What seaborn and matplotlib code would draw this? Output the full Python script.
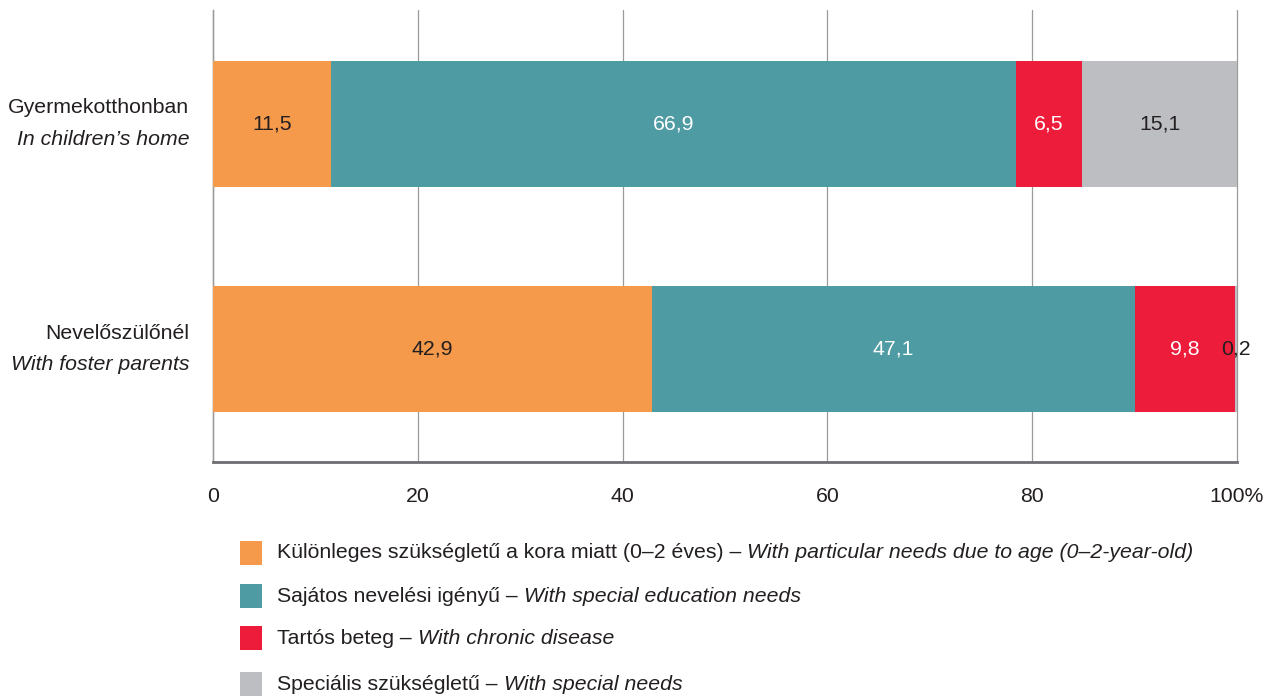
import matplotlib
matplotlib.use("Agg")
import matplotlib.pyplot as plt
import matplotlib.patches as mpatches
import seaborn as sns
import numpy as np
import pandas as pd

categories_hu = ["Gyermekotthonban", "Nevelőszülőnél"]
categories_en = ["In children’s home", "With foster parents"]
series_hu = ["Különleges szükségletű a kora miatt (0–2 éves) – ",
             "Sajátos nevelési igényű – ",
             "Tartós beteg – ",
             "Speciális szükségletű – "]
series_en = ["With particular needs due to age (0–2-year-old)",
             "With special education needs",
             "With chronic disease",
             "With special needs"]
particular_age = [11.5, 42.9]
special_education = [66.9, 47.1]
chronic_disease = [6.5, 9.8]
special_needs = [15.1, 0.2]
tick_values = [0, 20, 40, 60, 80, 100]
tick_labels = ["0", "20", "40", "60", "80", "100%"]

colors = ["#F5994A", "#4E9BA3", "#EE1C3B", "#BDBEC1"]
label_colors = ["#231F20", "white", "white", "#231F20"]
FS = 15.3

sns.set_theme(style="white")
plt.rcParams["font.family"] = ["Liberation Sans", "DejaVu Sans"]

series = [particular_age, special_education, chronic_disease, special_needs]
rows = []
for s_idx, vals in enumerate(series):
    for c_idx, v in enumerate(vals):
        rows.append({"cat": c_idx, "series": s_idx, "value": v})
df = pd.DataFrame(rows)
df["cum"] = df.groupby("cat")["value"].cumsum()
df["start"] = df["cum"] - df["value"]
df["cat_name"] = df["cat"].map(lambda i: categories_hu[i])

fig = plt.figure(figsize=(12.84, 6.97), dpi=100)
ax = fig.add_axes([213 / 1284, 1 - 462 / 697, 1024 / 1284, 452 / 697])

for s_idx in reversed(range(len(series))):
    sub = df[df["series"] == s_idx]
    sns.barplot(data=sub, x="cum", y="cat_name", order=categories_hu,
                color=colors[s_idx], orient="h", width=0.56,
                ax=ax, saturation=1, edgecolor="none", linewidth=0, zorder=3)

ax.set_xlim(0, 100)
ax.set_ylim(1.5, -0.505)
ax.set_xlabel("")
ax.set_ylabel("")
ax.set_yticks([])
ax.set_xticks(tick_values)
ax.set_xticklabels(tick_labels, fontsize=FS, color="#231F20")
ax.tick_params(axis="x", direction="out", length=8, width=1, color="#6d6e71", pad=10)
ax.grid(axis="x", color="#9a9a9a", linewidth=0.9, zorder=0)
for gl in ax.get_xgridlines():
    gl.set_clip_on(False)
for side in ["top", "right"]:
    ax.spines[side].set_visible(False)
ax.spines["left"].set_color("#9a9a9a")
ax.spines["left"].set_linewidth(1.0)
ax.spines["bottom"].set_color("#6d6e71")
ax.spines["bottom"].set_linewidth(2.0)
ax.set_axisbelow(True)

# value labels
for _, r in df.iterrows():
    s = int(r["series"])
    x = r["start"] + r["value"] / 2
    ax.text(x, r["cat"], f"{r['value']:.1f}".replace(".", ","), ha="center",
            va="center", fontsize=FS, color=label_colors[s], zorder=5)

# category labels
for i in range(len(categories_hu)):
    ax.annotate(categories_hu[i], xy=(0, i), xycoords=("axes fraction", "data"),
                xytext=(-17, 11.5), textcoords="offset points", ha="right",
                va="center", fontsize=FS, color="#231F20")
    ax.annotate(categories_en[i], xy=(0, i), xycoords=("axes fraction", "data"),
                xytext=(-17, -11), textcoords="offset points", ha="right",
                va="center", fontsize=FS, color="#231F20", style="italic")

# legend
legend_y = [553, 596, 638, 684]
for k in range(len(series_hu)):
    yc = 1 - legend_y[k] / 697
    fig.patches.append(mpatches.Rectangle((240 / 1284, yc - 12 / 697), 22 / 1284, 24 / 697,
                                          transform=fig.transFigure, facecolor=colors[k],
                                          edgecolor="none"))
    t1 = fig.text(277 / 1284, yc, series_hu[k], ha="left", va="center",
                  fontsize=FS, color="#231F20")
    ax.annotate(series_en[k], xy=(1, 0), xycoords=t1, ha="left", va="bottom",
                fontsize=FS, color="#231F20", style="italic",
                annotation_clip=False)

fig.savefig("out.png", dpi=100)
